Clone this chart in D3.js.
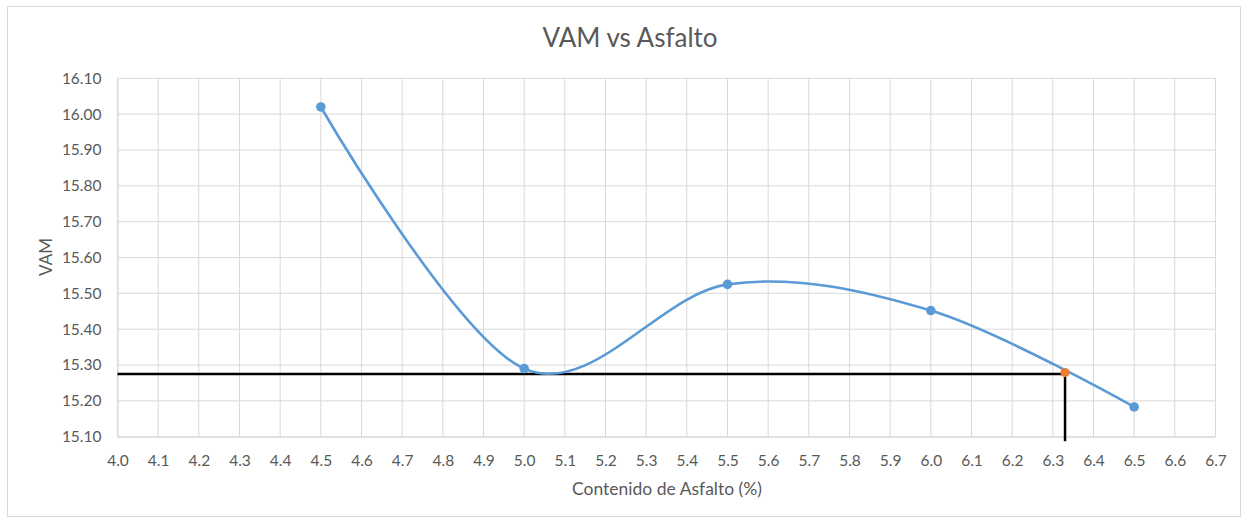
<!DOCTYPE html>
<html><head><meta charset="utf-8">
<script src="https://cdn.jsdelivr.net/npm/d3@7"></script>
<style>body{margin:0;background:#fff;} text{font-family:Lato,"Open Sans",sans-serif;}</style>
</head><body>
<svg id="c" width="1247" height="522"></svg>
<script>
const asfalto = [4.5, 5.0, 5.5, 6.0, 6.5];
const vam = [16.02, 15.29, 15.525, 15.452, 15.183];
const optX = [6.33];
const optY = [15.279];
const refLineY = 15.275;
const xTicks = d3.range(0, 28).map(i => +(4.0 + i * 0.1).toFixed(1));
const yTicks = d3.range(0, 11).map(i => +(15.1 + i * 0.1).toFixed(2));

const svg = d3.select("#c");
const L = 117.5, R = 1215.5, T = 78.3, B = 436.7;
const x = d3.scaleLinear().domain([4.0, 6.7]).range([L, R]);
const y = d3.scaleLinear().domain([15.1, 16.1]).range([B, T]);

svg.append("rect").attr("x", 7.5).attr("y", 6.5).attr("width", 1233).attr("height", 510)
  .attr("fill", "#fff").attr("stroke", "#d9d9d9");

// gridlines
svg.append("g").selectAll("line").data(xTicks).join("line")
  .attr("x1", d => x(d)).attr("x2", d => x(d)).attr("y1", T).attr("y2", B)
  .attr("stroke", "#d9d9d9").attr("stroke-width", 1);
svg.append("g").selectAll("line").data(yTicks).join("line")
  .attr("x1", L).attr("x2", R).attr("y1", d => y(d)).attr("y2", d => y(d))
  .attr("stroke", "#d9d9d9").attr("stroke-width", 1);

// axes labels
const xAxis = d3.axisBottom(x).tickValues(xTicks).tickFormat(d3.format(".1f")).tickSize(0).tickPadding(18);
const gx = svg.append("g").attr("transform", `translate(0,${B})`).call(xAxis);
gx.select(".domain").attr("stroke", "#d9d9d9");
gx.selectAll("text").attr("fill", "#595959").attr("font-size", 15.5);
const yAxis = d3.axisLeft(y).tickValues(yTicks).tickFormat(d3.format(".2f")).tickSize(0).tickPadding(16);
const gy = svg.append("g").attr("transform", `translate(${L},0)`).call(yAxis);
gy.select(".domain").attr("stroke", "#d9d9d9");
gy.selectAll("text").attr("fill", "#595959").attr("font-size", 15.5);

// reference lines
svg.append("line").attr("x1", x(4.0)).attr("x2", x(optX[0])).attr("y1", y(refLineY)).attr("y2", y(refLineY))
  .attr("stroke", "#000").attr("stroke-width", 2.5);
svg.append("line").attr("x1", x(optX[0])).attr("x2", x(optX[0])).attr("y1", y(refLineY)).attr("y2", B + 4.5)
  .attr("stroke", "#000").attr("stroke-width", 2.5);

// smoothed series
const pts = asfalto.map((a, i) => [x(a), y(vam[i])]);
svg.append("path").attr("d", d3.line().curve(d3.curveCardinal.tension(0))(pts))
  .attr("fill", "none").attr("stroke", "#5B9BD5").attr("stroke-width", 2.6);
svg.append("g").selectAll("circle").data(pts).join("circle")
  .attr("cx", d => d[0]).attr("cy", d => d[1]).attr("r", 4.8).attr("fill", "#5B9BD5");
svg.append("g").selectAll("circle").data(optX).join("circle")
  .attr("cx", (d) => x(d)).attr("cy", (d, i) => y(optY[i])).attr("r", 4.6).attr("fill", "#ED7D31");

// title and axis titles
svg.append("text").attr("x", 630).attr("y", 47).attr("text-anchor", "middle")
  .attr("font-size", 26).attr("fill", "#595959").text("VAM vs Asfalto");
svg.append("text").attr("x", 667).attr("y", 495).attr("text-anchor", "middle")
  .attr("font-size", 17.5).attr("fill", "#595959").text("Contenido de Asfalto (%)");
svg.append("text").attr("transform", "translate(52,257) rotate(-90)").attr("text-anchor", "middle")
  .attr("font-size", 17).attr("fill", "#595959").text("VAM");
</script>
</body></html>
